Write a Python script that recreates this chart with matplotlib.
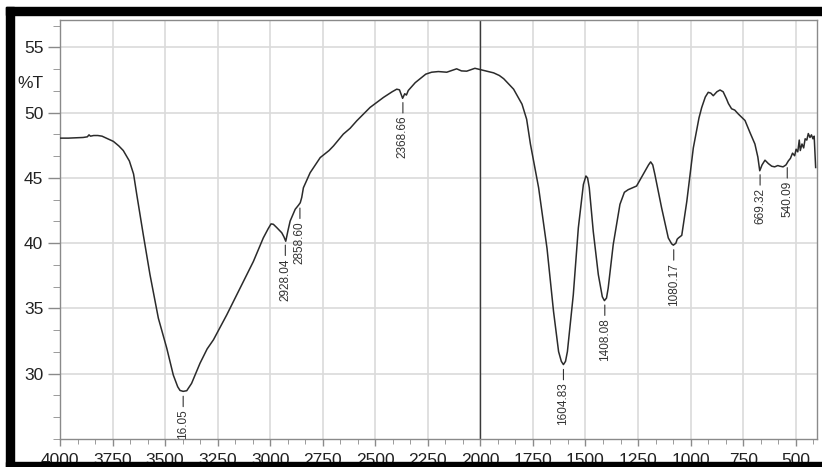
import numpy as np
import matplotlib
matplotlib.use('Agg')
import matplotlib.pyplot as plt
from matplotlib.ticker import MultipleLocator
from matplotlib.patches import Rectangle

plt.rcParams['font.family'] = ['Liberation Sans', 'DejaVu Sans']

# spectrum (cm-1, %T)
wavenumber = [4000, 3960, 3920, 3890, 3870, 3862, 3855, 3840, 3820, 3800, 3780,
              3760, 3746, 3720, 3699, 3670, 3650, 3635, 3604, 3572, 3532,
              3492, 3461, 3440, 3429, 3414, 3397, 3374, 3334, 3300, 3270,
              3207, 3143, 3080, 3033, 3010, 2996, 2985, 2969, 2945, 2935,
              2926, 2915, 2905, 2881, 2866, 2857, 2850, 2842, 2810, 2762,
              2720, 2699, 2652, 2620, 2588, 2525, 2461, 2420, 2398, 2385,
              2370, 2360, 2352, 2343, 2310, 2287, 2260, 2232, 2200, 2160,
              2113, 2090, 2065, 2026, 2000, 1970, 1937, 1910, 1889, 1842,
              1802, 1780, 1762, 1723, 1683, 1652, 1628, 1615, 1605, 1595,
              1586, 1558, 1534, 1510, 1498, 1490, 1482, 1463, 1439, 1420,
              1410, 1400, 1392, 1368, 1336, 1315, 1297, 1257, 1225, 1200,
              1190, 1180, 1170, 1138, 1106, 1090, 1082, 1070, 1064, 1058,
              1042, 1018, 987, 960, 947, 930, 916, 904, 892, 875, 860,
              845, 829, 820, 805, 790, 773, 741, 718, 694, 680, 671, 660,
              646, 630, 614, 600, 585, 575, 560, 546, 535, 525, 515, 505,
              498, 490, 483, 478, 470, 462, 455, 447, 440, 432, 425, 418,
              412, 405]
transmittance = [48.05, 48.05, 48.08, 48.1, 48.15, 48.3, 48.2, 48.25, 48.25, 48.2, 48.05,
                 47.9, 47.8, 47.45, 47.1, 46.3, 45.3, 43.75, 40.67, 37.6, 34.25,
                 31.95, 29.9, 29.0, 28.72, 28.65, 28.7, 29.26, 30.8, 31.9, 32.6,
                 34.5, 36.56, 38.6, 40.4, 41.1, 41.48, 41.45, 41.2, 40.8, 40.5,
                 40.15, 41.0, 41.7, 42.6, 42.9, 43.1, 43.5, 44.25, 45.4, 46.56,
                 47.1, 47.45, 48.36, 48.8, 49.38, 50.4, 51.17, 51.6, 51.8, 51.75,
                 51.1, 51.45, 51.35, 51.7, 52.3, 52.6, 52.95, 53.1, 53.15, 53.1,
                 53.36, 53.2, 53.18, 53.4, 53.3, 53.18, 53.05, 52.85, 52.6, 51.8,
                 50.65, 49.5, 47.6, 44.25, 39.6, 34.77, 31.7, 30.95, 30.7, 30.95,
                 31.7, 36.05, 41.18, 44.5, 45.15, 45.0, 44.25, 40.9, 37.6, 35.9,
                 35.6, 35.8, 36.56, 39.9, 42.98, 43.9, 44.1, 44.38, 45.28, 46.0,
                 46.23, 46.0, 45.28, 42.72, 40.4, 39.95, 39.85, 40.0, 40.3, 40.4,
                 40.6, 43.2, 47.3, 49.6, 50.4, 51.2, 51.56, 51.5, 51.3, 51.6, 51.74,
                 51.6, 51.05, 50.7, 50.3, 50.2, 49.9, 49.4, 48.5, 47.6, 46.6, 45.55, 46.0,
                 46.36, 46.1, 45.9, 45.85, 45.95, 45.9, 45.85, 46.0, 46.3, 46.5, 46.9, 46.7,
                 47.2, 47.0, 47.9, 47.1, 47.6, 47.3, 48.0, 47.9, 48.4, 48.1, 48.3, 48.0,
                 48.2, 45.8]

peak_pos = [3414.0, 2928.04, 2858.60, 2368.66, 1604.83, 1408.08, 1080.17, 669.32, 540.09]
peak_text = ['16.05', '2928.04', '2858.60', '2368.66', '1604.83', '1408.08',
             '1080.17', '669.32', '540.09']

x_ticks = [4000, 3750, 3500, 3250, 3000, 2750, 2500, 2250, 2000, 1750, 1500, 1250, 1000, 750, 500]
y_ticks = [30, 35, 40, 45, 50, 55]

W, H = 822, 467
fig = plt.figure(figsize=(W / 100, H / 100), dpi=100)
ax = fig.add_axes([60 / W, 1 - 439 / H, (816.7 - 60) / W, (439 - 20) / H])

ax.plot(wavenumber, transmittance, color='#2b2b2b', lw=1.1, zorder=3)
ax.axvline(2000, color='#3a3a3a', lw=1.0, zorder=2)

ax.set_xlim(4000, 400)
ax.set_ylim(25, 57.1)
ax.set_xticks(x_ticks)
ax.set_yticks(y_ticks)
ax.xaxis.set_minor_locator(MultipleLocator(250 / 3))
ax.yaxis.set_minor_locator(MultipleLocator(5 / 3))
ax.grid(True, which='major', color='#dadada', lw=1.2, zorder=0)
ax.set_axisbelow(True)

ax.tick_params(axis='both', which='major', labelsize=12.5, labelcolor='#222222',
               color='#8a8a8a', width=1)
ax.tick_params(axis='y', which='major', length=8.5, pad=3.5)
ax.tick_params(axis='y', which='minor', length=5, color='#8a8a8a')
ax.tick_params(axis='x', which='major', length=5, pad=5)
ax.tick_params(axis='x', which='minor', length=3.5, color='#8a8a8a')
for s in ax.spines.values():
    s.set_color('#8a8a8a')
    s.set_linewidth(1.0)

# peak labels
wn_inc = np.array(wavenumber[::-1])
t_inc = np.array(transmittance[::-1])
for pos, txt in zip(peak_pos, peak_text):
    yv = np.interp(pos, wn_inc, t_inc)
    ax.annotate(txt, xy=(pos, yv), xytext=(0, -13), textcoords='offset points',
                rotation=90, ha='center', va='top', fontsize=8.5, color='#333333',
                arrowprops=dict(arrowstyle='-', color='#333333', lw=0.8,
                                shrinkA=0, shrinkB=3.5),
                annotation_clip=False, zorder=4)

fig.text(43 / W, 1 - 83 / H, '%T', ha='right', va='center', fontsize=12.5, color='#222222')

# black photo frame
fig.add_artist(Rectangle((6 / W, 1 - 15 / H), 1, 8 / H, transform=fig.transFigure,
                         color='black', zorder=10))
fig.add_artist(Rectangle((6 / W, 0), 8 / W, 1 - 7 / H, transform=fig.transFigure,
                         color='black', zorder=10))
fig.add_artist(Rectangle((6 / W, 0), 1, 5 / H, transform=fig.transFigure,
                         color='black', zorder=10))

fig.savefig('out.png', dpi=100, facecolor='white')
